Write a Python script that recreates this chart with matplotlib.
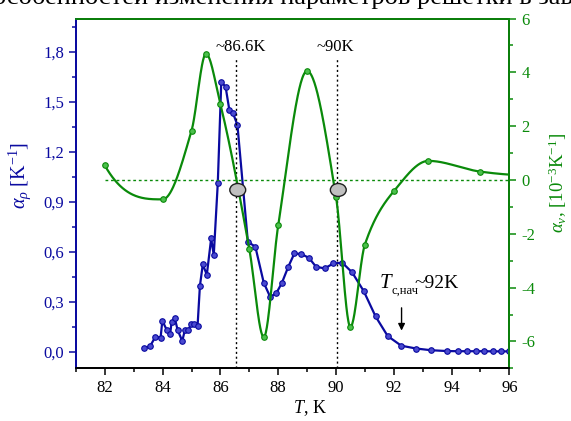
import numpy as np
import matplotlib
matplotlib.use('Agg')
import matplotlib.pyplot as plt
from matplotlib.patches import Ellipse
from matplotlib.ticker import MultipleLocator, FuncFormatter

# alpha_rho, K^-1 (left axis)
rho_T = [83.35, 83.57, 83.75, 83.93, 83.99, 84.15, 84.26, 84.31, 84.42, 84.52,
         84.68, 84.77, 84.89, 84.98, 85.10, 85.21, 85.29, 85.39, 85.53, 85.68,
         85.77, 85.91, 86.03, 86.18, 86.31, 86.44, 86.59, 86.95, 87.21, 87.50,
         87.72, 87.93, 88.12, 88.35, 88.56, 88.80, 89.06, 89.31, 89.61, 89.91,
         90.22, 90.56, 90.96, 91.37, 91.79, 92.26, 92.78, 93.29, 93.83, 94.24,
         94.55, 94.85, 95.13, 95.43, 95.72, 96.00]
rho_a = [0.020, 0.034, 0.090, 0.084, 0.186, 0.128, 0.104, 0.178, 0.202, 0.130,
         0.064, 0.130, 0.128, 0.166, 0.166, 0.156, 0.394, 0.524, 0.462, 0.680,
         0.580, 1.014, 1.620, 1.590, 1.450, 1.430, 1.360, 0.660, 0.630, 0.414,
         0.330, 0.350, 0.410, 0.510, 0.590, 0.586, 0.564, 0.510, 0.500, 0.530,
         0.534, 0.476, 0.364, 0.212, 0.094, 0.036, 0.019, 0.009, 0.004, 0.003,
         0.003, 0.003, 0.003, 0.002, 0.002, 0.002]

# alpha_v, 10^-3 K^-1 (right axis)
v_T = [82.0, 84.0, 85.0, 85.5, 86.0, 87.0, 87.5, 88.0, 89.0, 90.0, 90.5, 91.0,
       92.0, 93.2, 95.0, 96.0]
v_a = [0.54, -0.72, 1.83, 4.69, 2.81, -2.56, -5.84, -1.69, 4.05, -0.62, -5.46,
       -2.40, -0.42, 0.71, 0.31, 0.20]

x_ticks = [82, 84, 86, 88, 90, 92, 94, 96]
marked_T = [86.55, 90.03]

BLUE = '#0a0aa0'
GREEN = '#0a8a0a'

plt.rcParams['font.family'] = ['Liberation Serif', 'DejaVu Serif']
plt.rcParams['mathtext.fontset'] = 'custom'
plt.rcParams['mathtext.rm'] = 'Liberation Serif'
plt.rcParams['mathtext.it'] = 'Liberation Serif:italic'


def smooth_curve(x, y, n=800):
  """Shape-preserving cubic (PCHIP) curve through the points."""
  x = np.asarray(x, float)
  y = np.asarray(y, float)
  m = len(x)
  h = np.diff(x)
  delta = np.diff(y) / h
  d = np.zeros(m)
  for k in range(1, m - 1):
    if delta[k - 1] * delta[k] > 0:
      w1 = 2 * h[k] + h[k - 1]
      w2 = h[k] + 2 * h[k - 1]
      d[k] = (w1 + w2) / (w1 / delta[k - 1] + w2 / delta[k])
  for k, (h0, h1, d0, d1) in [(0, (h[0], h[1], delta[0], delta[1])),
                              (m - 1, (h[-1], h[-2], delta[-1], delta[-2]))]:
    e = ((2 * h0 + h1) * d0 - h0 * d1) / (h0 + h1)
    if np.sign(e) != np.sign(d0):
      e = 0.0
    elif np.sign(d0) != np.sign(d1) and abs(e) > abs(3 * d0):
      e = 3 * d0
    d[k] = e
  xs = np.linspace(x[0], x[-1], n)
  idx = np.clip(np.searchsorted(x, xs) - 1, 0, m - 2)
  t = (xs - x[idx]) / h[idx]
  h00 = 2 * t ** 3 - 3 * t ** 2 + 1
  h10 = t ** 3 - 2 * t ** 2 + t
  h01 = -2 * t ** 3 + 3 * t ** 2
  h11 = t ** 3 - t ** 2
  ys = h00 * y[idx] + h10 * h[idx] * d[idx] + h01 * y[idx + 1] + h11 * h[idx] * d[idx + 1]
  return xs, ys


fig = plt.figure(figsize=(5.71, 4.21), dpi=100)
ax = fig.add_axes([0.133, 0.125, 0.759, 0.831])
ax2 = ax.twinx()

# cropped caption line at the very top
fig.text(-0.012, 1 - 4 / 421, 'особенностей изменения параметров решетки в зависимости',
         fontsize=19, va='baseline', ha='left')

# left axis: alpha_rho
ax.plot(rho_T, rho_a, '-', color=BLUE, lw=1.6, marker='o', ms=4,
        mfc='#4a4ad0', mec=BLUE, mew=0.8, zorder=3)
ax.set_xlim(81, 96)
ax.set_ylim(-0.1, 2.0)
ax.xaxis.set_minor_locator(MultipleLocator(1))
ax.yaxis.set_minor_locator(MultipleLocator(0.15))
ax.set_yticks([0, 0.3, 0.6, 0.9, 1.2, 1.5, 1.8])
ax.yaxis.set_major_formatter(FuncFormatter(lambda v, p: f'{v:.1f}'.replace('.', ',')))
ax.set_xticks(x_ticks)
ax.tick_params(axis='x', which='both', direction='out', colors='black', labelsize=12,
               top=False)
ax.tick_params(axis='x', which='major', length=5, width=1.1)
ax.tick_params(axis='x', which='minor', length=3, width=1.1)
ax.tick_params(axis='y', which='both', direction='out', colors=BLUE, labelsize=12)
ax.tick_params(axis='y', which='major', length=5, width=1.1)
ax.tick_params(axis='y', which='minor', length=3, width=1.1)
ax.spines['left'].set_color(BLUE)
ax.spines['bottom'].set_color('black')
for s in ax.spines.values():
  s.set_linewidth(1.3)

ax.set_ylabel(r'$\alpha_\rho$ [K$^{-1}$]', color=BLUE, fontsize=14.5)
ax.yaxis.set_label_coords(-0.1, 0.55)
ax.set_xlabel(r'$T$, K', fontsize=13)
ax.xaxis.set_label_coords(0.54, -0.085)

# right axis: alpha_v
xs, ys = smooth_curve(v_T, v_a)
ax2.plot(xs, ys, '-', color=GREEN, lw=1.6, zorder=2)
ax2.plot(v_T[:-1], v_a[:-1], 'o', ms=4, mfc='#4cc04c', mec=GREEN, mew=0.8, zorder=2)
ax2.plot([v_T[0], 96], [0, 0], ls=(0, (2, 2)), color=GREEN, lw=1.0)
ax2.set_ylim(-7, 6)
ax2.yaxis.set_major_locator(MultipleLocator(2))
ax2.yaxis.set_minor_locator(MultipleLocator(1))
ax2.yaxis.set_major_formatter(FuncFormatter(lambda v, p: f'{v:g}'))
ax2.tick_params(axis='y', which='both', direction='out', colors=GREEN, labelsize=12)
ax2.tick_params(axis='y', which='major', length=5, width=1.1)
ax2.tick_params(axis='y', which='minor', length=3, width=1.1)
ax2.tick_params(axis='x', which='both', top=True, direction='in', colors=GREEN,
                length=5, width=1.1, labeltop=False)
ax2.spines['right'].set_color(GREEN)
ax2.spines['top'].set_color(GREEN)
ax2.spines['left'].set_color(BLUE)
ax2.spines['bottom'].set_color('black')
for s in ax2.spines.values():
  s.set_linewidth(1.3)
ax2.set_ylabel(r'$\alpha_v$, [10$^{-3}$K$^{-1}$]', color=GREEN, fontsize=13.5)
ax2.yaxis.set_label_coords(1.087, 0.53)

# markers for the crossing temperatures
for t in marked_T:
  ax2.plot([t, t], [-7, 4.5], ls=(0, (1.5, 2)), color='black', lw=1.0, zorder=1)
  ax2.add_patch(Ellipse((t + 0.05, -0.37), 0.55, 0.48, facecolor='#c0c0c0',
                        edgecolor='#202020', lw=1.0, zorder=5))

ax.text(0.321, 0.918, '~86.6K', transform=ax.transAxes, fontsize=12, va='center')
ax.text(0.598, 0.918, '~90K', transform=ax.transAxes, fontsize=12, va='center',
        ha='center')

# onset of superconducting transition
ax.text(0.70, 0.244, r'$T$', transform=ax.transAxes, fontsize=15, va='center')
ax.text(0.728, 0.222, 'с,нач', transform=ax.transAxes, fontsize=9, va='center')
ax.text(0.782, 0.244, '~92K', transform=ax.transAxes, fontsize=14, va='center')
ax.annotate('', xy=(92.27, 0.11), xytext=(92.27, 0.28),
            arrowprops=dict(arrowstyle='-|>', color='black', lw=1.0,
                            mutation_scale=10))

fig.savefig('out.png', dpi=100)
